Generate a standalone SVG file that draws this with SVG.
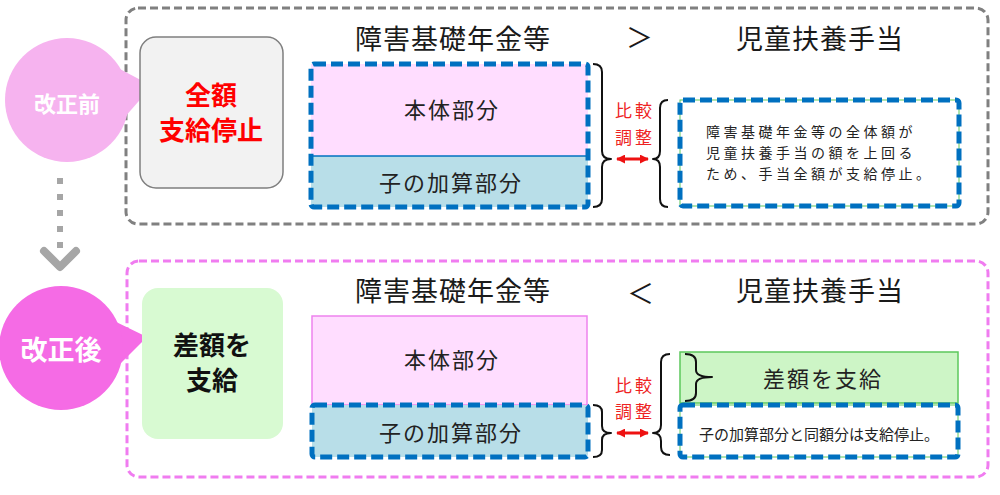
<svg xmlns="http://www.w3.org/2000/svg" width="1000" height="495" viewBox="0 0 1000 495">
  <defs>
    <marker id="redHead" viewBox="0 0 10 10" refX="9" refY="5" markerWidth="3" markerHeight="3" orient="auto-start-reverse">
      <path d="M0,0 L10,5 L0,10 Z" fill="#EE1111"/>
    </marker>
  </defs>
  <style>
    text { font-family: "Noto Sans CJK JP", "Noto Sans", sans-serif; text-anchor: middle; dominant-baseline: central; }
    .title { font-size: 27px; fill: #1a1a1a; letter-spacing: 1px; }
    .part { font-size: 22px; fill: #222; letter-spacing: 2px; }
    .red { font-size: 17px; fill: #EE2222; letter-spacing: 3px; }
    .note { font-size: 14px; fill: #222; text-anchor: start; letter-spacing: 3.5px; }
    .big { font-size: 26px; font-weight: bold; }
    .blue-dash { fill: none; stroke: #0070C0; stroke-width: 5; stroke-dasharray: 12 5; }
    .brace { fill: none; stroke: #111; stroke-width: 2; stroke-linejoin: round; }
    .frame { fill: none; stroke-width: 3; stroke-dasharray: 8 4; }
  </style>
  <rect width="1000" height="495" fill="#ffffff"/>

  <!-- frames -->
  <g id="frame-before">
    <rect x="126" y="8" width="862" height="216" rx="12" class="frame" stroke="#808080"/>
  </g>
  <g id="frame-after">
    <rect x="127" y="261" width="861" height="216" rx="12" class="frame" stroke="#F07CF0"/>
  </g>

  <!-- speech circles -->
  <g id="label-before">
    <path d="M118,68 L152,86 L124,118 Z" fill="#F6B3EF"/>
    <circle cx="67" cy="100" r="62" fill="#F6B3EF"/>
    <text x="67" y="102" style="font-size:22px;font-weight:bold;fill:#ffffff">改正前</text>
  </g>
  <g id="label-after">
    <path d="M108,318 L147,337 L112,372 Z" fill="#F56BE5"/>
    <circle cx="61" cy="348" r="62" fill="#F56BE5"/>
    <text x="61" y="348" style="font-size:27px;font-weight:bold;fill:#ffffff">改正後</text>
  </g>

  <!-- result nodes -->
  <g id="result-before">
    <rect x="140" y="37" width="143" height="151" rx="16" fill="#F2F2F2" stroke="#7F7F7F" stroke-width="1.5"/>
    <text x="211" y="93" class="big" fill="#FF0000">全額</text>
    <text x="211" y="128" class="big" fill="#FF0000">支給停止</text>
  </g>
  <g id="result-after">
    <rect x="142" y="288" width="141" height="151" rx="16" fill="#D8FAD2"/>
    <text x="212" y="343" class="big" fill="#111">差額を</text>
    <text x="212" y="378" class="big" fill="#111">支給</text>
  </g>

  <!-- titles -->
  <g id="titles-before">
    <text x="453" y="37" class="title">障害基礎年金等</text>
    <text x="640" y="36" class="title">＞</text>
    <text x="820" y="37" class="title">児童扶養手当</text>
  </g>
  <g id="titles-after">
    <text x="453" y="289" class="title">障害基礎年金等</text>
    <text x="641" y="292" class="title">＜</text>
    <text x="820" y="289" class="title">児童扶養手当</text>
  </g>

  <!-- pension before -->
  <g id="pension-before">
    <rect x="311" y="64" width="277" height="92" fill="#FFDDFF"/>
    <rect x="311" y="156" width="277" height="51" fill="#B8DEE8"/>
    <line x1="311" y1="156" x2="588" y2="156" stroke="#0070C0" stroke-width="1.5"/>
    <rect x="311" y="64" width="277" height="143" rx="3" class="blue-dash"/>
    <text x="452" y="108" class="part">本体部分</text>
    <text x="451" y="181" class="part">子の加算部分</text>
  </g>

  <!-- allowance before -->
  <g id="allowance-before">
    <rect x="680" y="100" width="279" height="106" fill="#ffffff" stroke="#5CC85C" stroke-width="1"/>
    <rect x="680" y="100" width="279" height="106" rx="3" class="blue-dash"/>
    <text x="706" y="131" class="note">障害基礎年金等の全体額が</text>
    <text x="706" y="152" class="note">児童扶養手当の額を上回る</text>
    <text x="706" y="173" class="note">ため、手当全額が支給停止。</text>
  </g>

  <!-- pension after -->
  <g id="pension-after">
    <rect x="312" y="316" width="275" height="89" fill="#FFDDFF" stroke="#EE82EE" stroke-width="1.5"/>
    <text x="452" y="358" class="part">本体部分</text>
  </g>
  <g id="child-after">
    <rect x="312" y="405" width="276" height="52" rx="3" fill="#B8DEE8"/>
    <rect x="312" y="405" width="276" height="52" rx="3" class="blue-dash"/>
    <text x="451" y="431" class="part">子の加算部分</text>
  </g>

  <!-- allowance after -->
  <g id="difference-after">
    <rect x="680" y="352" width="278" height="51" fill="#CDF5C6" stroke="#5CC85C" stroke-width="1.5"/>
    <text x="823" y="377" class="part">差額を支給</text>
  </g>
  <g id="stopped-after">
    <rect x="680" y="405" width="278" height="52" fill="#ffffff" stroke="#5CC85C" stroke-width="1"/>
    <rect x="680" y="405" width="278" height="52" rx="3" class="blue-dash"/>
    <text x="819" y="433" style="font-size:15px;fill:#222">子の加算部分と同額分は支給停止。</text>
  </g>

  <!-- compare labels -->
  <g id="compare-before">
    <text x="635" y="109" class="red">比較</text>
    <text x="635" y="136" class="red">調整</text>
  </g>
  <g id="compare-after">
    <text x="635" y="384" class="red">比較</text>
    <text x="635" y="410" class="red">調整</text>
  </g>

  <!-- connectors -->
  <g id="connectors">
    <line x1="60" y1="178" x2="60" y2="248" stroke="#A6A6A6" stroke-width="6" stroke-dasharray="6 10"/>
    <path d="M44,251 L60,267 L76,251" fill="none" stroke="#A6A6A6" stroke-width="8" stroke-linecap="round" stroke-linejoin="round"/>

    <path class="brace" d="M593,64 Q602,64 602,72 L602,151 Q602,159 611,159 Q602,159 602,167 L602,199 Q602,207 593,207"/>
    <path class="brace" d="M668,100 Q660,100 660,108 L660,151 Q660,159 653,159 Q660,159 660,167 L660,199 Q660,207 668,207"/>
    <line x1="617" y1="159" x2="648" y2="159" stroke="#EE1111" stroke-width="3" marker-start="url(#redHead)" marker-end="url(#redHead)"/>

    <path class="brace" d="M593,405 Q602,405 602,412 L602,426 Q602,433 611,433 Q602,433 602,440 L602,450 Q602,457 593,457"/>
    <path class="brace" d="M670,354 Q661,354 661,362 L661,425 Q661,433 653,433 Q661,433 661,441 L661,447 Q661,455 670,455"/>
    <line x1="617" y1="433" x2="648" y2="433" stroke="#EE1111" stroke-width="3" marker-start="url(#redHead)" marker-end="url(#redHead)"/>

    <path class="brace" d="M685,354 Q696,354 696,362 L696,370 Q696,377 712,377 Q696,377 696,384 L696,393 Q696,401 685,401"/>
  </g>
</svg>
